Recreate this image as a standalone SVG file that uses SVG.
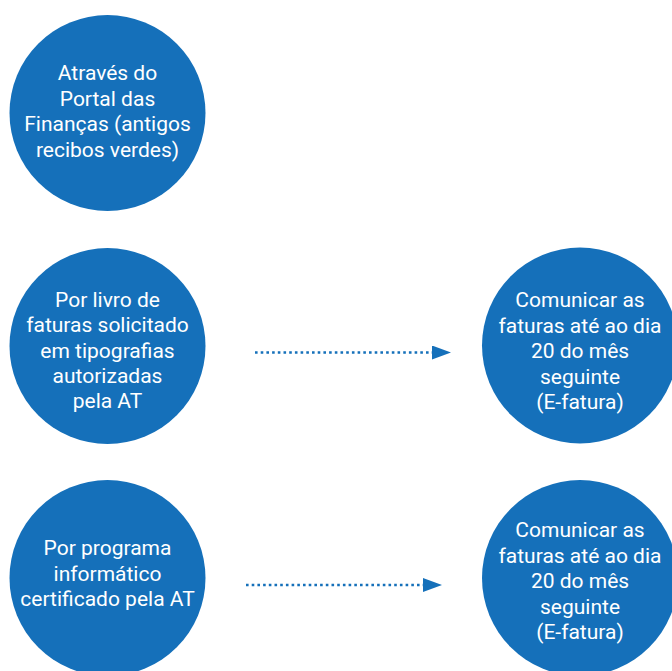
<svg xmlns="http://www.w3.org/2000/svg" width="672" height="671" viewBox="0 0 672 671">
<defs>
<style>
.node{fill:#1570ba}
.lbl{font-family:Roboto,"Liberation Sans",sans-serif;font-size:21px;fill:#ffffff;text-anchor:middle}
.conn{stroke:#1570ba;stroke-width:2.6;stroke-dasharray:2.6 3.1;fill:none}
</style>
<marker id="ah" markerUnits="userSpaceOnUse" markerWidth="20" markerHeight="16" refX="0" refY="7" orient="auto">
<path d="M0,0 L19,7 L0,14 Z" fill="#1570ba"/>
</marker>
</defs>
<rect width="672" height="671" fill="#ffffff"/>
<g id="connectors">
<line class="conn" x1="255" y1="352.5" x2="432" y2="352.5" marker-end="url(#ah)"/>
<line class="conn" x1="246" y1="585" x2="423" y2="585" marker-end="url(#ah)"/>
</g>
<g id="node-portal">
<circle class="node" cx="107.5" cy="113" r="98"/>
<text class="lbl"><tspan x="107.5" y="80">Através do</tspan><tspan x="107.5" y="105.5">Portal das</tspan><tspan x="107.5" y="131">Finanças (antigos</tspan><tspan x="107.5" y="156.5">recibos verdes)</tspan></text>
</g>
<g id="node-livro">
<circle class="node" cx="107.5" cy="346" r="98"/>
<text class="lbl"><tspan x="107.5" y="307">Por livro de</tspan><tspan x="107.5" y="332">faturas solicitado</tspan><tspan x="107.5" y="357.5">em tipografias</tspan><tspan x="107.5" y="383">autorizadas</tspan><tspan x="107.5" y="408">pela AT</tspan></text>
</g>
<g id="node-programa">
<circle class="node" cx="107.5" cy="578" r="98"/>
<text class="lbl"><tspan x="107.5" y="555">Por programa</tspan><tspan x="107.5" y="580.5">informático</tspan><tspan x="107.5" y="606">certificado pela AT</tspan></text>
</g>
<g id="node-efatura-1">
<circle class="node" cx="580" cy="345.5" r="98"/>
<text class="lbl"><tspan x="580" y="307">Comunicar as</tspan><tspan x="580" y="332.5">faturas até ao dia</tspan><tspan x="580" y="358">20 do mês</tspan><tspan x="580" y="383.5">seguinte</tspan><tspan x="580" y="409">(E-fatura)</tspan></text>
</g>
<g id="node-efatura-2">
<circle class="node" cx="580" cy="578" r="98"/>
<text class="lbl"><tspan x="580" y="537">Comunicar as</tspan><tspan x="580" y="562.5">faturas até ao dia</tspan><tspan x="580" y="588">20 do mês</tspan><tspan x="580" y="613.5">seguinte</tspan><tspan x="580" y="639">(E-fatura)</tspan></text>
</g>
</svg>
